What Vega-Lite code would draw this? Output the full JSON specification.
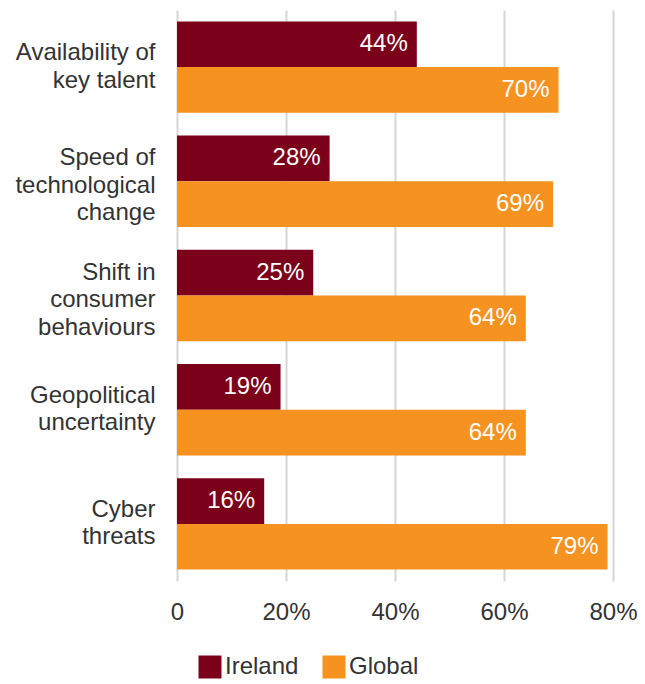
{
  "$schema": "https://vega.github.io/schema/vega-lite/v6.json",
  "autosize": "none",
  "width": 436,
  "height": 571,
  "padding": {"left": 177, "top": 10, "right": 32, "bottom": 103},
  "background": "white",
  "config": {
    "font": "Liberation Sans",
    "view": {"stroke": null},
    "axis": {"labelFont": "Liberation Sans", "labelFontSize": 24, "labelColor": "#333333"},
    "legend": {"labelFont": "Liberation Sans", "labelFontSize": 24, "labelColor": "#333333"}
  },
  "data": {
    "values": [
      {"category": "Availability of|key talent", "series": "Ireland", "value": 44},
      {"category": "Availability of|key talent", "series": "Global", "value": 70},
      {"category": "Speed of|technological|change", "series": "Ireland", "value": 28},
      {"category": "Speed of|technological|change", "series": "Global", "value": 69},
      {"category": "Shift in|consumer|behaviours", "series": "Ireland", "value": 25},
      {"category": "Shift in|consumer|behaviours", "series": "Global", "value": 64},
      {"category": "Geopolitical|uncertainty", "series": "Ireland", "value": 19},
      {"category": "Geopolitical|uncertainty", "series": "Global", "value": 64},
      {"category": "Cyber|threats", "series": "Ireland", "value": 16},
      {"category": "Cyber|threats", "series": "Global", "value": 79}
    ]
  },
  "transform": [{"calculate": "datum.value + '%'", "as": "label"}],
  "encoding": {
    "y": {
      "field": "category",
      "type": "nominal",
      "sort": null,
      "scale": {"paddingInner": 0.2, "paddingOuter": 0.1},
      "axis": {
        "title": null,
        "domain": false,
        "ticks": false,
        "labelPadding": 22,
        "labelExpr": "split(datum.label, '|')",
        "labelLineHeight": 27.5,
        "labelLimit": 300,
        "labelOffset": {
          "condition": {"test": "length(split(datum.value, '|')) == 3", "value": -23},
          "value": -14
        }
      }
    },
    "yOffset": {
      "field": "series",
      "type": "nominal",
      "sort": ["Ireland", "Global"],
      "scale": {"paddingInner": 0, "paddingOuter": 0}
    },
    "x": {
      "field": "value",
      "type": "quantitative",
      "scale": {"domain": [0, 80], "nice": false},
      "axis": {
        "title": null,
        "values": [0, 20, 40, 60, 80],
        "domain": false,
        "ticks": false,
        "grid": true,
        "gridColor": "#d6d6d6",
        "gridWidth": 2,
        "labelPadding": 19,
        "labelFlush": false,
        "labelExpr": "datum.value == 0 ? '0' : datum.value + '%'"
      }
    }
  },
  "layer": [
    {
      "mark": {"type": "bar"},
      "encoding": {
        "color": {
          "field": "series",
          "type": "nominal",
          "scale": {"domain": ["Ireland", "Global"], "range": ["#7b0019", "#f59220"]},
          "legend": {
            "title": null,
            "orient": "none",
            "direction": "horizontal",
            "legendX": 21,
            "legendY": 645,
            "padding": 0,
            "symbolType": "square",
            "symbolSize": 529,
            "symbolStrokeWidth": 0,
            "symbolOpacity": 1,
            "labelOffset": 3,
            "columnPadding": 23
          }
        }
      }
    },
    {
      "mark": {"type": "text", "align": "right", "baseline": "middle", "dx": -9, "color": "white", "fontSize": 24, "font": "Liberation Sans"},
      "encoding": {"text": {"field": "label"}}
    }
  ]
}
